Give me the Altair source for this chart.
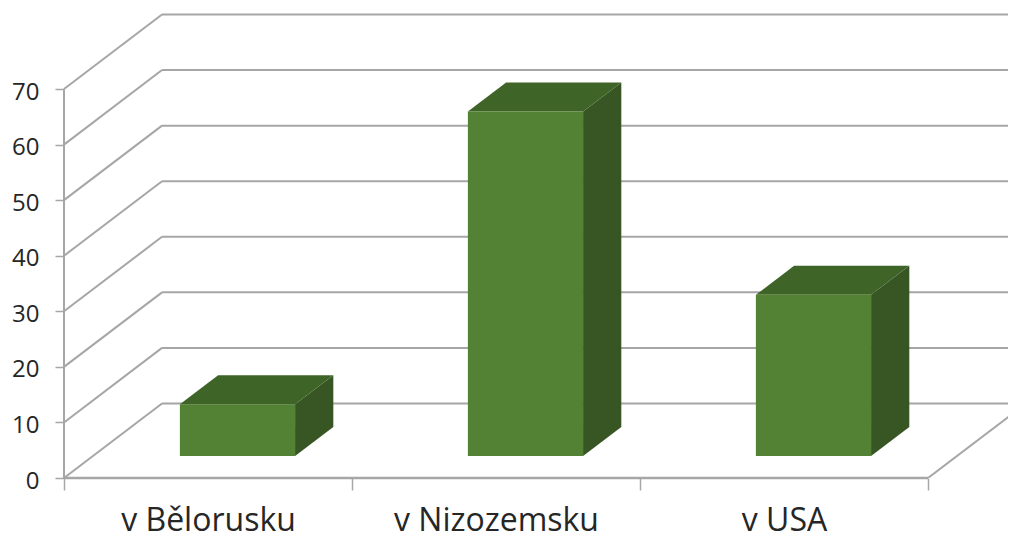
import altair as alt
import pandas as pd

categories = ["v Bělorusku", "v Nizozemsku", "v USA"]
values = [9.3, 62, 29]
y_ticks = [0, 10, 20, 30, 40, 50, 60, 70]
x_ticks = [0, 1, 2, 3]
label_pos = [0.5, 1.5, 2.5]

# Oblique 3D projection: depth 0 = front plane, depth 1 = back wall
SHEAR_X = 0.3403
SHEAR_Y = 13.41
BAR_INSET = 0.302
BAR_W = 0.4
DEPTH_FRONT = 0.295
DEPTH_BACK = 0.685
X_MAX = 3.2778
Y_MAX = 84.58

GRID = "#a6a6a6"
FONT = "Open Sans"
TEXT = "#262626"


def px(cat, depth):
    return cat + depth * SHEAR_X


def py(val, depth):
    return val + depth * SHEAR_Y


xs = alt.Scale(domain=[0, X_MAX], nice=False, zero=False)
ys = alt.Scale(domain=[0, Y_MAX], nice=False, zero=False)
X = lambda **k: alt.X("x:Q", scale=xs, **k)
Y = lambda **k: alt.Y("y:Q", scale=ys, **k)

left_rows, back_rows = [], []
for v in y_ticks:
    for d in (0, 1):
        left_rows.append(dict(s=v, o=d, x=px(0, d), y=py(v, d)))
    for c in (0, 3):
        back_rows.append(dict(s=v, o=c, x=px(c, 1), y=py(v, 1)))
right_rows = [dict(s=0, o=d, x=px(3, d), y=py(0, d)) for d in (0, 1)]
floor_rows = [dict(s=0, o=c, x=px(c, 0), y=py(0, 0)) for c in (0, 3)]
wall_rows = [dict(s=0, o=v, x=0, y=v) for v in (0, 70)]

front_rows, side_rows, top_rows = [], [], []
for i, v in enumerate(values):
    x0, x1 = i + BAR_INSET, i + BAR_INSET + BAR_W
    yf, yb = py(v, DEPTH_FRONT), py(v, DEPTH_BACK)
    front_rows.append(dict(x=px(x0, DEPTH_FRONT), x2=px(x1, DEPTH_FRONT),
                           y=py(0, DEPTH_FRONT), y2=yf))
    for d in (DEPTH_FRONT, DEPTH_BACK):
        side_rows.append(dict(s=i, x=px(x1, d), y=py(0, d), y2=py(v, d)))
    for x_, lo, hi in [
        (px(x0, DEPTH_FRONT), yf, yf),
        (px(x0, DEPTH_BACK), yf, yb),
        (px(x1, DEPTH_FRONT), yf, yb),
        (px(x1, DEPTH_BACK), yb, yb),
    ]:
        top_rows.append(dict(s=i, x=x_, y=lo, y2=hi))


def lines(rows, width, clip=False):
    return (
        alt.Chart(pd.DataFrame(rows))
        .mark_line(color=GRID, strokeWidth=width, clip=clip)
        .encode(X(axis=None), Y(axis=None), detail="s:N", order="o:Q")
    )


label_expr = (
    "datum.value < 1 ? '%s' : datum.value < 2 ? '%s' : '%s'" % tuple(categories)
)

x_tick_axis = alt.Axis(
    orient="bottom", values=x_ticks, labels=False, domain=False, grid=False,
    tickSize=12, tickColor=GRID, tickWidth=1.5, title=None,
)
x_label_axis = alt.Axis(
    orient="bottom", values=label_pos, ticks=False, domain=False, grid=False,
    labelExpr=label_expr, labelFont=FONT, labelFontSize=32, labelColor=TEXT,
    labelPadding=27, labelBaseline="top", labelLimit=400, title=None,
)
y_axis = alt.Axis(
    orient="left", values=y_ticks, domain=False, grid=False, tickSize=9,
    tickColor=GRID, tickWidth=1.5, labelFont=FONT, labelFontSize=24,
    labelColor=TEXT, labelPadding=16, labelOffset=3, title=None,
)

tick_layer = (
    alt.Chart(pd.DataFrame(floor_rows))
    .mark_line(color=GRID, strokeWidth=2.5)
    .encode(X(axis=x_tick_axis), Y(axis=y_axis), detail="s:N", order="o:Q")
)
label_layer = (
    alt.Chart(pd.DataFrame([dict(x=p, y=0) for p in label_pos]))
    .mark_point(opacity=0)
    .encode(X(axis=x_label_axis), Y(axis=None))
)

front = (
    alt.Chart(pd.DataFrame(front_rows))
    .mark_rect(color="#548235")
    .encode(X(axis=None), alt.X2("x2:Q"), Y(axis=None), alt.Y2("y2:Q"))
)
side = (
    alt.Chart(pd.DataFrame(side_rows))
    .mark_area(color="#375623")
    .encode(X(axis=None), Y(axis=None), alt.Y2("y2:Q"), detail="s:N")
)
top = (
    alt.Chart(pd.DataFrame(top_rows))
    .mark_area(color="#3f6427")
    .encode(X(axis=None), Y(axis=None), alt.Y2("y2:Q"), detail="s:N")
)

chart = (
    alt.layer(
        tick_layer,
        label_layer,
        lines(left_rows, 2),
        lines(back_rows, 2, clip=True),
        lines(right_rows, 2, clip=True),
        lines(wall_rows, 2),
        side,
        top,
        front,
    )
    .resolve_axis(x="independent", y="independent")
    .properties(
        width=944,
        height=470,
        autosize="none",
        background="white",
        padding={"left": 56, "top": 0, "right": 0, "bottom": 54},
        view=alt.ViewBackground(stroke="transparent", strokeWidth=0),
    )
    .configure_view(strokeWidth=0, stroke="transparent")
)

chart.save("out.html", embed_options={"renderer": "svg", "actions": False})
